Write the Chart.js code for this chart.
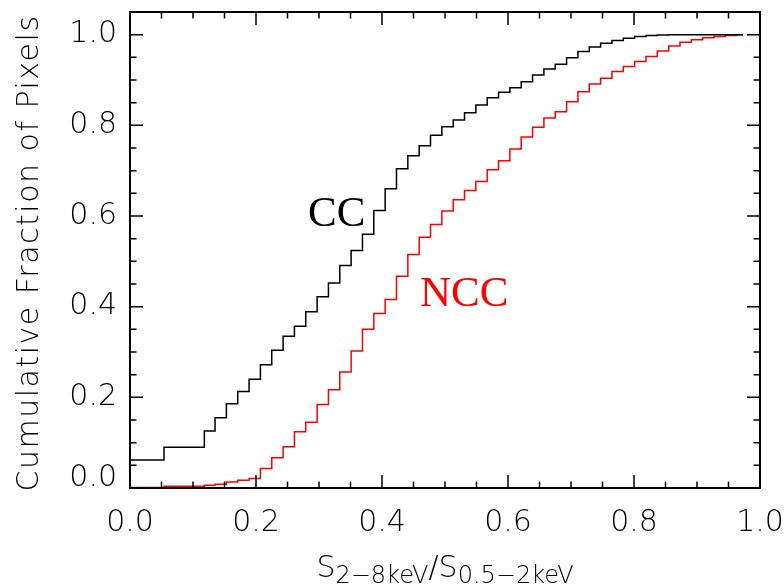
<!DOCTYPE html>
<html>
<head>
<meta charset="utf-8">
<script src="https://cdn.jsdelivr.net/npm/chart.js@4.4.0/dist/chart.umd.min.js"></script>
<style>
  html, body { margin: 0; padding: 0; background: #fff; }
  #wrap { width: 784px; height: 584px; }
</style>
</head>
<body>
<div id="wrap"><canvas id="cdf"></canvas></div>
<script>
// bin edges of the hardness ratio (left edge of each step, last one is where the curves end)
const binEdges = [0, 0.054, 0.118, 0.135, 0.153, 0.171, 0.189, 0.207, 0.225, 0.243,
  0.261, 0.279, 0.297, 0.315, 0.333, 0.351, 0.369, 0.387, 0.405, 0.423,
  0.441, 0.459, 0.477, 0.495, 0.513, 0.531, 0.549, 0.567, 0.585, 0.603,
  0.621, 0.639, 0.657, 0.675, 0.693, 0.711, 0.729, 0.747, 0.765, 0.783,
  0.801, 0.819, 0.837, 0.855, 0.873, 0.891, 0.909, 0.927, 0.945, 0.963, 0.973];

// cumulative fraction for the cool-core sample
const ccFraction = [0.062, 0.090, 0.126, 0.155, 0.186, 0.213, 0.240, 0.272, 0.304, 0.335,
  0.357, 0.389, 0.422, 0.452, 0.491, 0.524, 0.560, 0.612, 0.660, 0.704,
  0.733, 0.755, 0.778, 0.797, 0.812, 0.828, 0.845, 0.861, 0.873, 0.883,
  0.896, 0.911, 0.924, 0.935, 0.949, 0.963, 0.973, 0.981, 0.987, 0.992,
  0.996, 0.998, 0.999, 1.0, 1.0, 1.0, 1.0, 1.0, 1.0, 1.0, 1.0];

// cumulative fraction for the non-cool-core sample
const nccFraction = [0.001, 0.004, 0.006, 0.008, 0.013, 0.017, 0.021, 0.043, 0.067, 0.091,
  0.124, 0.145, 0.184, 0.217, 0.256, 0.302, 0.350, 0.385, 0.416, 0.467,
  0.515, 0.553, 0.581, 0.611, 0.636, 0.656, 0.676, 0.702, 0.722, 0.748,
  0.774, 0.796, 0.816, 0.830, 0.852, 0.874, 0.891, 0.904, 0.919, 0.930,
  0.941, 0.952, 0.964, 0.975, 0.983, 0.989, 0.993, 0.996, 0.998, 1.0, 1.0];

const xTickValues = [0, 0.2, 0.4, 0.6, 0.8, 1.0];
const xTickLabels = ['0.0', '0.2', '0.4', '0.6', '0.8', '1.0'];
const yTickValues = [0, 0.2, 0.4, 0.6, 0.8, 1.0];
const yTickLabels = ['0.0', '0.2', '0.4', '0.6', '0.8', '1.0'];

const tickFont = '200 30px "DejaVu Sans"';

function toPoints(xs, ys) {
  return xs.map((v, i) => ({ x: v, y: ys[i] }));
}

// IDL style box: frame, inward ticks on all four sides, labels, titles
const idlFrame = {
  id: 'idlFrame',
  afterDraw(chart) {
    const { ctx, chartArea: a, scales: { x, y } } = chart;
    ctx.save();
    ctx.strokeStyle = '#000';
    ctx.lineWidth = 2;
    ctx.strokeRect(a.left, a.top, a.right - a.left, a.bottom - a.top);

    ctx.lineWidth = 1.5;
    ctx.beginPath();
    for (let k = 0; k <= 20; k++) {
      const v = k * 0.05;
      const len = k % 4 === 0 ? 13 : 6.5;
      const px = x.getPixelForValue(v);
      ctx.moveTo(px, a.bottom); ctx.lineTo(px, a.bottom - len);
      ctx.moveTo(px, a.top); ctx.lineTo(px, a.top + len);
      const py = y.getPixelForValue(v);
      ctx.moveTo(a.left, py); ctx.lineTo(a.left + len, py);
      ctx.moveTo(a.right, py); ctx.lineTo(a.right - len, py);
    }
    ctx.stroke();

    ctx.fillStyle = '#000';
    ctx.font = tickFont;
    ctx.textAlign = 'right';
    ctx.textBaseline = 'middle';
    yTickValues.forEach((v, i) => {
      const py = y.getPixelForValue(v) - (v === 0 ? 10 : 0);
      ctx.fillText(yTickLabels[i], a.left - 13, py);
    });
    ctx.textAlign = 'center';
    xTickValues.forEach((v, i) => {
      ctx.fillText(xTickLabels[i], x.getPixelForValue(v), a.bottom + 35);
    });

    // y title
    ctx.save();
    ctx.translate(30, (a.top + a.bottom) / 2 + 3);
    ctx.rotate(-Math.PI / 2);
    ctx.textAlign = 'center';
    ctx.letterSpacing = '1.5px';
    ctx.fillText('Cumulative Fraction of Pixels', 0, 0);
    ctx.restore();

    // x title with subscripts
    const big = '200 30px "DejaVu Sans"';
    const small = '200 24px "DejaVu Sans"';
    const parts = [['S', big, 0], ['2\u22128keV', small, 6], ['/', big, 0], ['S', big, 0], ['0.5\u22122keV', small, 6]];
    let total = 0;
    parts.forEach(p => { ctx.font = p[1]; total += ctx.measureText(p[0]).width; });
    let cx = (a.left + a.right) / 2 - total / 2;
    ctx.textAlign = 'left';
    ctx.textBaseline = 'alphabetic';
    parts.forEach(p => {
      ctx.font = p[1];
      ctx.fillText(p[0], cx, 577 + p[2]);
      cx += ctx.measureText(p[0]).width;
    });

    // sample labels
    ctx.font = '43px "Liberation Serif"';
    ctx.textAlign = 'left';
    ctx.fillStyle = '#000';
    ctx.fillText('CC', 308, 226);
    ctx.fillStyle = '#ff0000';
    ctx.fillText('NCC', 420, 306);
    ctx.restore();
  }
};

new Chart(document.getElementById('cdf'), {
  type: 'scatter',
  data: {
    datasets: [
      {
        label: 'CC',
        data: toPoints(binEdges, ccFraction),
        showLine: true,
        stepped: 'before',
        borderColor: '#000000',
        borderWidth: 1.5,
        pointRadius: 0
      },
      {
        label: 'NCC',
        data: toPoints(binEdges, nccFraction),
        showLine: true,
        stepped: 'before',
        borderColor: '#ff0000',
        borderWidth: 1.5,
        pointRadius: 0
      }
    ]
  },
  options: {
    responsive: true,
    maintainAspectRatio: false,
    animation: false,
    layout: { padding: { left: 130, right: 24, top: 12, bottom: 96 } },
    plugins: { legend: { display: false }, tooltip: { enabled: false } },
    scales: {
      x: { type: 'linear', min: 0, max: 1.0, display: false },
      y: { type: 'linear', min: 0, max: 1.05, display: false }
    }
  },
  plugins: [idlFrame]
});
</script>
</body>
</html>
